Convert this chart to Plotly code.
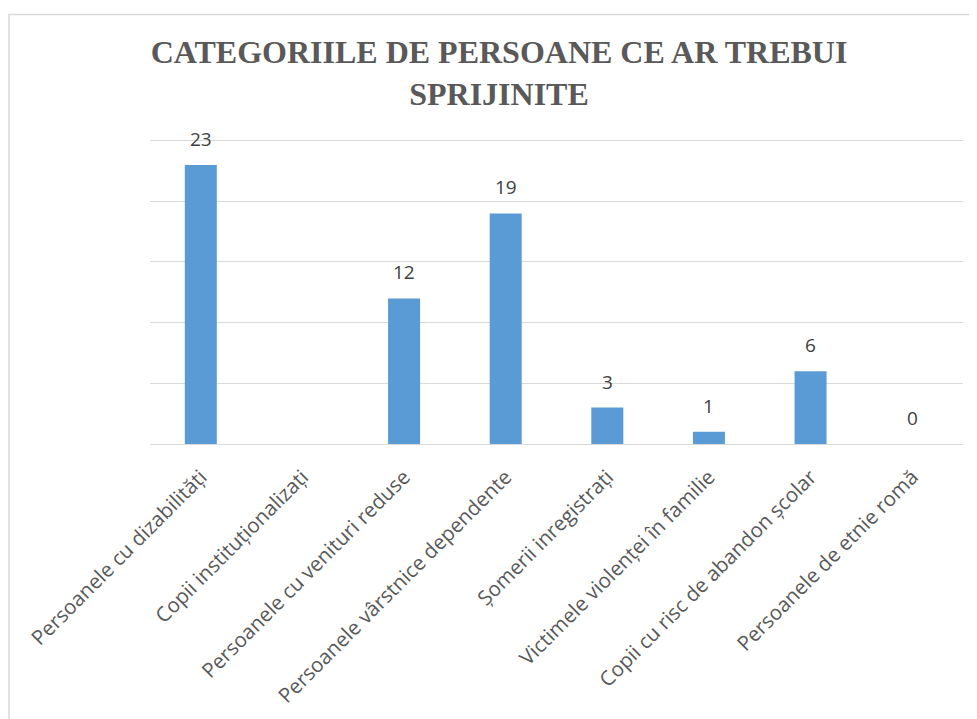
import plotly.graph_objects as go

categories = [
    "Persoanele cu dizabilități",
    "Copii instituționalizați",
    "Persoanele cu venituri reduse",
    "Persoanele vârstnice dependente",
    "Șomerii inregistrați",
    "Victimele violenței în familie",
    "Copii cu risc de abandon școlar",
    "Persoanele de etnie romă",
]
values = [23, None, 12, 19, 3, 1, 6, 0]
title_text = "CATEGORIILE DE PERSOANE CE AR TREBUI<br>SPRIJINITE"

fig = go.Figure()
fig.add_trace(go.Bar(
    x=categories, y=values,
    marker=dict(color="#5B9BD5", line=dict(width=0)),
    width=0.315,
    hoverinfo="x+y",
))

annotations = []
for c, v in zip(categories, values):
    if v is None:
        continue
    annotations.append(dict(
        x=c, y=v, xref="x", yref="y", text=str(v), showarrow=False,
        yanchor="bottom", yshift=11,
        font=dict(family="Open Sans", size=19, color="#404040"),
    ))

L, T, B, R = 142, 129, 283, 22
plot_w = 977 - L - R
plot_h = 719 - T - B
y_max = 25.3

fig.update_layout(
    width=977, height=719,
    margin=dict(l=L, r=R, t=T, b=B),
    paper_bgcolor="white", plot_bgcolor="white",
    showlegend=False,
    title=dict(
        text=title_text, x=491 / 977, xanchor="center", xref="container",
        yref="container", y=1 - 55 / 719, yanchor="top",
        font=dict(family="Liberation Serif", size=32, color="#595959", weight="bold"),
    ),
    annotations=annotations,
    xaxis=dict(
        type="category", tickangle=-45, showgrid=False, showline=False, ticks="",
        tickfont=dict(family="Open Sans", size=20.5, color="#595959"),
        ticklabelstandoff=16,
    ),
    yaxis=dict(
        range=[0, y_max], dtick=5, showticklabels=False, showgrid=True,
        gridcolor="#d9d9d9", gridwidth=1, zeroline=True, zerolinecolor="#d9d9d9",
        zerolinewidth=1, showline=False, ticks="",
    ),
    shapes=[dict(
        type="rect", xref="paper", yref="paper",
        x0=(1 - L) / plot_w, x1=1.2, y0=-2, y1=(T + plot_h - 6.5) / plot_h,
        line=dict(color="#d9d9d9", width=1.5), fillcolor="rgba(0,0,0,0)", layer="below",
    )],
)

fig.write_html("out.html")
